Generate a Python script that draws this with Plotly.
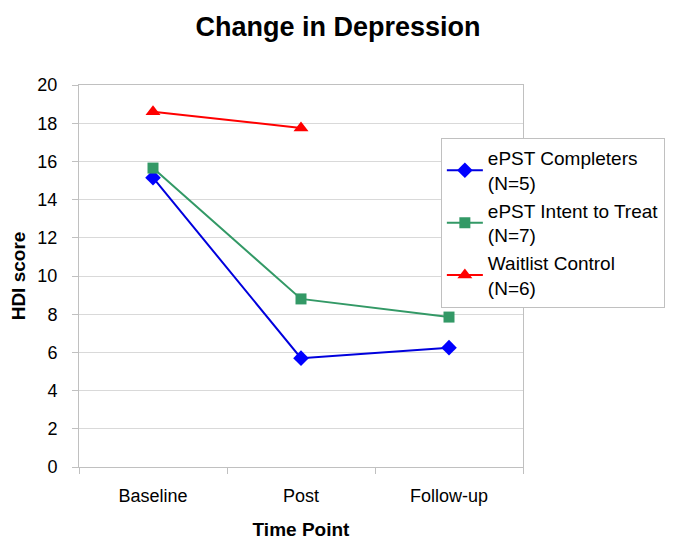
import plotly.graph_objects as go

time_points = ["Baseline", "Post", "Follow-up"]
completers = [15.15, 5.7, 6.25]
intent_to_treat = [15.65, 8.8, 7.85]
waitlist = [18.6, 17.75]
waitlist_points = ["Baseline", "Post"]

series_names = ["ePST Completers<br>(N=5)", "ePST Intent to Treat<br>(N=7)", "Waitlist Control<br>(N=6)"]
y_ticks = [0, 2, 4, 6, 8, 10, 12, 14, 16, 18, 20]

fig = go.Figure()
fig.add_trace(go.Scatter(x=time_points, y=completers, name=series_names[0], mode="lines+markers",
                         line=dict(color="#0000dd", width=2),
                         marker=dict(symbol="diamond", size=12, color="#0000ff")))
fig.add_trace(go.Scatter(x=time_points, y=intent_to_treat, name=series_names[1], mode="lines+markers",
                         line=dict(color="#339966", width=2),
                         marker=dict(symbol="square", size=11, color="#339966")))
fig.add_trace(go.Scatter(x=waitlist_points, y=waitlist, name=series_names[2], mode="lines+markers",
                         line=dict(color="#ff0000", width=2),
                         marker=dict(symbol="triangle-up", size=13, color="#ff0000")))

font_family = "Liberation Sans, Arial, sans-serif"
fig.update_layout(
    width=674, height=552,
    margin=dict(l=71, r=159, t=77, b=93),
    paper_bgcolor="white", plot_bgcolor="white",
    font=dict(family=font_family, size=18, color="black"),
    title=dict(text="<b>Change in Depression</b>", x=0.4896, xanchor="center", y=0.966, yanchor="middle",
               font=dict(size=27, family=font_family)),
    showlegend=True,
    legend=dict(x=0.815, y=0.861, xanchor="left", yanchor="top", bgcolor="white",
                bordercolor="#c0c0c0", borderwidth=1, font=dict(size=19), tracegroupgap=2,
                itemwidth=36),
    xaxis=dict(categoryorder="array", categoryarray=time_points, range=[-0.5, 2.5], automargin=False,
               showline=True, linecolor="#c0c0c0", linewidth=1, mirror=True,
               ticks="outside", tickson="boundaries", ticklen=6, tickcolor="#c0c0c0",
               ticklabelstandoff=12,
               showgrid=False,
               title=dict(text="<b>Time Point</b>", font=dict(size=19), standoff=18)),
    yaxis=dict(range=[0, 20], tickvals=y_ticks, automargin=False,
               showline=True, linecolor="#c0c0c0", linewidth=1, mirror=True,
               ticks="outside", ticklen=6, tickcolor="#c0c0c0", ticklabelstandoff=11,
               showgrid=True, gridcolor="#d9d9d9", zeroline=False,
               title=dict(text="<b>HDI score</b>", font=dict(size=19), standoff=12)),
)

fig.write_html("out.html")
